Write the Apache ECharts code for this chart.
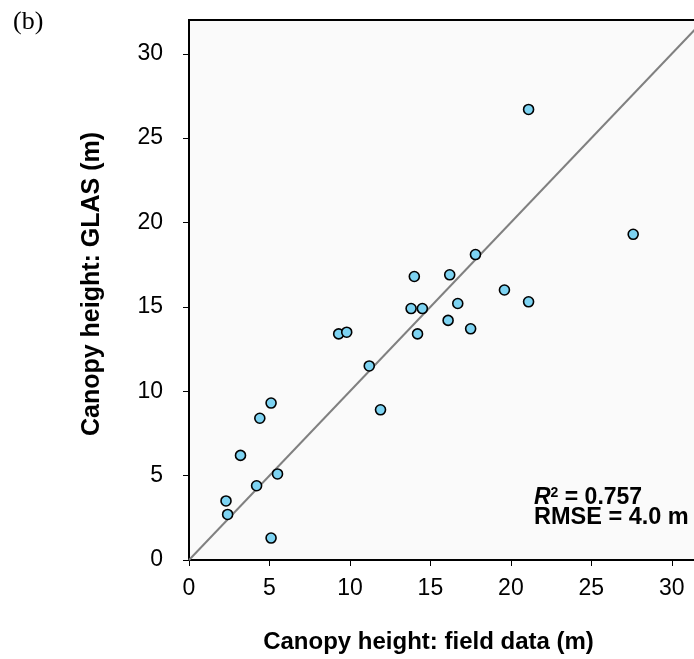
<!DOCTYPE html>
<html>
<head>
<meta charset="utf-8">
<style>
  html, body { margin: 0; padding: 0; background: #ffffff; overflow: hidden; }
  #chart { width: 704px; height: 659px; }
</style>
<script src="https://cdn.jsdelivr.net/npm/echarts@6/dist/echarts.min.js"></script>
</head>
<body>
<div id="chart"></div>
<script>
// ---- data ----
const fieldHeight = [5.1, 4.4, 3.2, 5.5, 4.2, 2.3, 2.4, 5.1, 17.8, 14.0, 16.2, 19.6, 21.1, 13.8, 14.5, 16.7, 16.1, 17.5, 9.3, 9.8, 14.2, 11.2, 11.9, 21.1, 27.6];
const glasHeight  = [9.3, 8.4, 6.2, 5.1, 4.4, 3.5, 2.7, 1.3, 18.1, 16.8, 16.9, 16.0, 15.3, 14.9, 14.9, 15.2, 14.2, 13.7, 13.4, 13.5, 13.4, 11.5, 8.9, 26.7, 19.3];
const lineX = [0, 32];
const lineY = [0, 32];
const tickValues = [0, 5, 10, 15, 20, 25, 30];
const axisMin = 0, axisMax = 32;

const points = fieldHeight.map((x, i) => [x, glasHeight[i]]);
const linePts = lineX.map((x, i) => [x, lineY[i]]);

const chart = echarts.init(document.getElementById('chart'), null, { renderer: 'canvas' });
const font = 'Liberation Sans, Arial, sans-serif';

const axisCommon = {
  type: 'value',
  min: axisMin,
  max: axisMax,
  interval: 5,
  nameLocation: 'middle',
  nameTextStyle: { fontFamily: font, fontSize: 24, fontWeight: 'bold', color: '#000' },
  axisLine: { show: true, onZero: false, lineStyle: { color: '#000', width: 2 } },
  axisTick: { show: true, inside: false, length: 6, lineStyle: { color: '#000', width: 1 }, customValues: tickValues },
  axisLabel: { fontFamily: font, fontSize: 23, color: '#000', customValues: tickValues },
  splitLine: { show: false }
};

chart.setOption({
  animation: false,
  backgroundColor: '#ffffff',
  grid: {
    left: 189, top: 20, right: 0, bottom: 98,
    show: true, backgroundColor: '#fafafa', borderColor: '#000', borderWidth: 2
  },
  xAxis: Object.assign({}, axisCommon, {
    name: 'Canopy height: field data (m)',
    nameGap: 70,
    nameTextStyle: Object.assign({}, axisCommon.nameTextStyle, { padding: [0, 36, 0, 0] }),
    axisLabel: Object.assign({}, axisCommon.axisLabel, { margin: 17 })
  }),
  yAxis: Object.assign({}, axisCommon, {
    name: 'Canopy height: GLAS (m)',
    nameGap: 84,
    nameTextStyle: Object.assign({}, axisCommon.nameTextStyle, { fontSize: 25, padding: [0, 0, 0, 12] }),
    axisLabel: Object.assign({}, axisCommon.axisLabel, { margin: 26 })
  }),
  series: [
    {
      type: 'line',
      data: linePts,
      showSymbol: false,
      symbol: 'none',
      lineStyle: { color: '#808080', width: 2 },
      z: 2
    },
    {
      type: 'scatter',
      data: points,
      symbol: 'circle',
      symbolSize: 10,
      itemStyle: { color: '#7dd3f2', borderColor: '#000', borderWidth: 1.6, opacity: 1 },
      z: 3
    }
  ],
  graphic: [
    {
      type: 'text', left: 13, top: 9,
      style: { text: '(b)', fontFamily: 'Liberation Serif, Times New Roman, serif', fontSize: 26, fill: '#000' }
    },
    {
      type: 'text', x: 534, y: 498,
      style: {
        text: '{i|R}{s|2}{b| = 0.757}',
        verticalAlign: 'middle',
        rich: {
          i: { fontFamily: font, fontSize: 23, fontWeight: 'bold', fontStyle: 'italic', fill: '#000' },
          s: { fontFamily: font, fontSize: 14, fontWeight: 'bold', fill: '#000', padding: [0, 0, 9, 0] },
          b: { fontFamily: font, fontSize: 23, fontWeight: 'bold', fill: '#000' }
        }
      }
    },
    {
      type: 'text', x: 534, y: 518,
      style: {
        text: 'RMSE = 4.0 m', verticalAlign: 'middle',
        fontFamily: font, fontSize: 23.5, fontWeight: 'bold', fill: '#000'
      }
    }
  ]
});
</script>
</body>
</html>
